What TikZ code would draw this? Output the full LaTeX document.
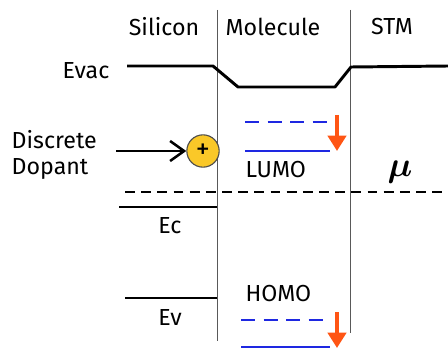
\documentclass[tikz,border=0pt]{standalone}
\usepackage{amsmath}
\usepackage{fontspec}
\setmainfont{Fira Sans}
\usepackage{xcolor}
\usepackage{tikz}
\usetikzlibrary{arrows.meta,positioning,calc}

\definecolor{levelblue}{RGB}{30,40,225}
\definecolor{shiftorange}{RGB}{255,85,20}
\definecolor{dopantyellow}{RGB}{250,200,40}

\begin{document}
\begin{tikzpicture}[x=0.025cm, y=-0.025cm,
    txt/.style={inner sep=1pt, font=\fontsize{16.5}{19}\selectfont},
    level/.style={line width=2.1pt},
    divider/.style={line width=0.6pt, gray!70!black},
    fermi/.style={line width=2.1pt, dash pattern=on 7pt off 4.5pt},
    orbital/.style={line width=2.1pt, levelblue},
    orbitaldash/.style={line width=2.1pt, levelblue, dash pattern=on 10pt off 6pt},
    shiftarrow/.style={-{Triangle[length=11pt, width=13pt]}, line width=2.8pt, shiftorange},
    arrow/.style={-{Straight Barb[length=3.5mm, width=5mm]}, line width=1.8pt}
]
\useasboundingbox (0,0) rectangle (448,348);
% region headers
\node[txt] (silicon) at (164,27) {Silicon};
\node[txt] (molecule) at (273,27) {Molecule};
\node[txt] (stm) at (392,27) {STM};
% interfaces
\coordinate (ltop) at (217,10);
\coordinate (lbot) at (217,341);
\coordinate (rtop) at (350,10);
\coordinate (rbot) at (350,333);
\draw[divider] (ltop) -- (lbot);
\draw[divider] (rtop) -- (rbot);
% vacuum level
\node[txt] (evac) at (86,71) {Evac};
\coordinate (ev0) at (127,66);
\coordinate (ev1) at (213,66);
\coordinate (ev2) at (238,87);
\coordinate (ev3) at (335,87);
\coordinate (ev4) at (351,67);
\coordinate (ev5) at (448,66);
\draw[level, line join=round] (ev0) -- (ev1) -- (ev2) -- (ev3) -- (ev4) -- (ev5);
% dopant
\node[txt, align=left, anchor=west] (dopanttxt) at (10,155) {Discrete\\Dopant};
\node[circle, draw=black!70, line width=0.8pt, fill=dopantyellow, minimum size=23pt, inner sep=0pt, font=\fontsize{20}{22}\selectfont] (dopant) at (203,151) {+};
\coordinate (dopantstart) at (116,151);
\draw[arrow] (dopantstart) -- (dopant.west);
% LUMO
\coordinate (lumod0) at (245,122);
\coordinate (lumod1) at (330,122);
\coordinate (lumo0) at (245,151);
\coordinate (lumo1) at (330,151);
\draw[orbitaldash] (lumod0) -- (lumod1);
\draw[orbital] (lumo0) -- (lumo1);
\node[txt, anchor=west] (lumo) at (244,170) {LUMO};
\coordinate (lumoshift0) at (337,115);
\coordinate (lumoshift1) at (337,151);
\draw[shiftarrow] (lumoshift0) -- (lumoshift1);
% Fermi level
\coordinate (mu0) at (125,192);
\coordinate (mu1) at (448,192);
\draw[fermi] (mu0) -- (mu1);
\node[font=\fontsize{24}{26}\selectfont] (mu) at (400,172) {$\boldsymbol{\mu}$};
% silicon bands
\coordinate (ec0) at (119,207);
\coordinate (ec1) at (217,207);
\draw[level] (ec0) -- (ec1);
\node[txt] (ec) at (170,226) {Ec};
\coordinate (ev0s) at (125,298);
\coordinate (ev1s) at (217,298);
\draw[level] (ev0s) -- (ev1s);
\node[txt] (ev) at (170,318) {Ev};
% HOMO
\node[txt, anchor=west] (homo) at (244,294) {HOMO};
\coordinate (homod0) at (241,320);
\coordinate (homod1) at (330,320);
\coordinate (homo0) at (241,347);
\coordinate (homo1) at (330,347);
\draw[orbitaldash] (homod0) -- (homod1);
\draw[orbital] (homo0) -- (homo1);
\coordinate (homoshift0) at (337,312);
\coordinate (homoshift1) at (337,348);
\draw[shiftarrow] (homoshift0) -- (homoshift1);
\end{tikzpicture}
\end{document}
